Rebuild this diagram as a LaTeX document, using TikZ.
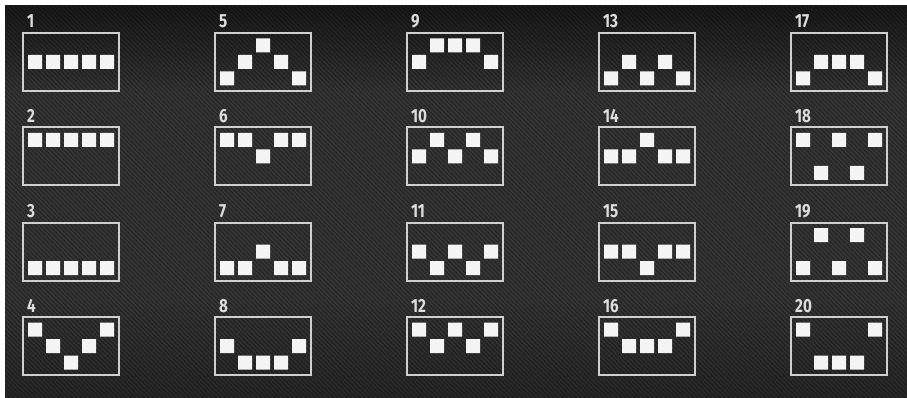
\documentclass[tikz,border=0pt]{standalone}
\usepackage{fontspec}
\setmainfont{Fira Sans}
\usepackage{tikz}

\definecolor{bgtop}{HTML}{1B1B1B}
\definecolor{bgmid}{HTML}{383838}
\definecolor{bgbot}{HTML}{2A2A2A}
\definecolor{framegray}{HTML}{CFCFCF}
\definecolor{cellwhite}{HTML}{F4F4F4}
\definecolor{numgray}{HTML}{DDDDDD}

\tikzset{
  frame/.style={draw=framegray, line width=2pt},
  cell/.style={fill=cellwhite},
  num/.style={anchor=base west, inner sep=0pt, text=numgray, xscale=0.8, transform shape,
    font=\bfseries\fontsize{19}{19}\selectfont},
  stripe/.style={draw=black, opacity=0.3, line width=1.5pt}
}

\begin{document}
\begin{tikzpicture}[x=1pt, y=-1pt]
\useasboundingbox (0,0) rectangle (907,398);
\fill[white](0,0)rectangle(907,398);

% background with stripes
\shade[top color=bgtop, bottom color=bgmid](5,6)rectangle(907,90);
\fill[bgmid](5,90)rectangle(907,300);
\shade[top color=bgmid, bottom color=bgbot](5,300)rectangle(907,398);
\begin{scope}
\clip(5,6)rectangle(907,398);
\foreach \k in {-400,-395.5,...,910}
  \draw[stripe](\k,6)--++(392,392);
\end{scope}

% first column
\begin{scope}[shift={(23,33)}]
\draw[frame](0,0)rectangle(96,58);
\node[num] (n1) at (4,-5) {1};
\fill[cell](5,22)rectangle++(14,14) (23,22)rectangle++(14,14) (41,22)rectangle++(14,14) (59,22)rectangle++(14,14) (77,22)rectangle++(14,14);
\end{scope}
\begin{scope}[shift={(23,127.5)}]
\draw[frame](0,0)rectangle(96,58);
\node[num] (n2) at (4,-5) {2};
\fill[cell](5,5.5)rectangle++(14,14) (23,5.5)rectangle++(14,14) (41,5.5)rectangle++(14,14) (59,5.5)rectangle++(14,14) (77,5.5)rectangle++(14,14);
\end{scope}
\begin{scope}[shift={(23,222.5)}]
\draw[frame](0,0)rectangle(96,58);
\node[num] (n3) at (4,-5) {3};
\fill[cell](5,38.5)rectangle++(14,14) (23,38.5)rectangle++(14,14) (41,38.5)rectangle++(14,14) (59,38.5)rectangle++(14,14) (77,38.5)rectangle++(14,14);
\end{scope}
\begin{scope}[shift={(23,317)}]
\draw[frame](0,0)rectangle(96,58);
\node[num] (n4) at (4,-5) {4};
\fill[cell](5,5.5)rectangle++(14,14) (23,22)rectangle++(14,14) (41,38.5)rectangle++(14,14) (59,22)rectangle++(14,14) (77,5.5)rectangle++(14,14);
\end{scope}

% second column
\begin{scope}[shift={(215,33)}]
\draw[frame](0,0)rectangle(96,58);
\node[num] (n5) at (4,-5) {5};
\fill[cell](5,38.5)rectangle++(14,14) (23,22)rectangle++(14,14) (41,5.5)rectangle++(14,14) (59,22)rectangle++(14,14) (77,38.5)rectangle++(14,14);
\end{scope}
\begin{scope}[shift={(215,127.5)}]
\draw[frame](0,0)rectangle(96,58);
\node[num] (n6) at (4,-5) {6};
\fill[cell](5,5.5)rectangle++(14,14) (23,5.5)rectangle++(14,14) (41,22)rectangle++(14,14) (59,5.5)rectangle++(14,14) (77,5.5)rectangle++(14,14);
\end{scope}
\begin{scope}[shift={(215,222.5)}]
\draw[frame](0,0)rectangle(96,58);
\node[num] (n7) at (4,-5) {7};
\fill[cell](5,38.5)rectangle++(14,14) (23,38.5)rectangle++(14,14) (41,22)rectangle++(14,14) (59,38.5)rectangle++(14,14) (77,38.5)rectangle++(14,14);
\end{scope}
\begin{scope}[shift={(215,317)}]
\draw[frame](0,0)rectangle(96,58);
\node[num] (n8) at (4,-5) {8};
\fill[cell](5,22)rectangle++(14,14) (23,38.5)rectangle++(14,14) (41,38.5)rectangle++(14,14) (59,38.5)rectangle++(14,14) (77,22)rectangle++(14,14);
\end{scope}

% third column
\begin{scope}[shift={(407,33)}]
\draw[frame](0,0)rectangle(96,58);
\node[num] (n9) at (4,-5) {9};
\fill[cell](5,22)rectangle++(14,14) (23,5.5)rectangle++(14,14) (41,5.5)rectangle++(14,14) (59,5.5)rectangle++(14,14) (77,22)rectangle++(14,14);
\end{scope}
\begin{scope}[shift={(407,127.5)}]
\draw[frame](0,0)rectangle(96,58);
\node[num] (n10) at (4,-5) {10};
\fill[cell](5,22)rectangle++(14,14) (23,5.5)rectangle++(14,14) (41,22)rectangle++(14,14) (59,5.5)rectangle++(14,14) (77,22)rectangle++(14,14);
\end{scope}
\begin{scope}[shift={(407,222.5)}]
\draw[frame](0,0)rectangle(96,58);
\node[num] (n11) at (4,-5) {11};
\fill[cell](5,22)rectangle++(14,14) (23,38.5)rectangle++(14,14) (41,22)rectangle++(14,14) (59,38.5)rectangle++(14,14) (77,22)rectangle++(14,14);
\end{scope}
\begin{scope}[shift={(407,317)}]
\draw[frame](0,0)rectangle(96,58);
\node[num] (n12) at (4,-5) {12};
\fill[cell](5,5.5)rectangle++(14,14) (23,22)rectangle++(14,14) (41,5.5)rectangle++(14,14) (59,22)rectangle++(14,14) (77,5.5)rectangle++(14,14);
\end{scope}

% fourth column
\begin{scope}[shift={(599,33)}]
\draw[frame](0,0)rectangle(96,58);
\node[num] (n13) at (4,-5) {13};
\fill[cell](5,38.5)rectangle++(14,14) (23,22)rectangle++(14,14) (41,38.5)rectangle++(14,14) (59,22)rectangle++(14,14) (77,38.5)rectangle++(14,14);
\end{scope}
\begin{scope}[shift={(599,127.5)}]
\draw[frame](0,0)rectangle(96,58);
\node[num] (n14) at (4,-5) {14};
\fill[cell](5,22)rectangle++(14,14) (23,22)rectangle++(14,14) (41,5.5)rectangle++(14,14) (59,22)rectangle++(14,14) (77,22)rectangle++(14,14);
\end{scope}
\begin{scope}[shift={(599,222.5)}]
\draw[frame](0,0)rectangle(96,58);
\node[num] (n15) at (4,-5) {15};
\fill[cell](5,22)rectangle++(14,14) (23,22)rectangle++(14,14) (41,38.5)rectangle++(14,14) (59,22)rectangle++(14,14) (77,22)rectangle++(14,14);
\end{scope}
\begin{scope}[shift={(599,317)}]
\draw[frame](0,0)rectangle(96,58);
\node[num] (n16) at (4,-5) {16};
\fill[cell](5,5.5)rectangle++(14,14) (23,22)rectangle++(14,14) (41,22)rectangle++(14,14) (59,22)rectangle++(14,14) (77,5.5)rectangle++(14,14);
\end{scope}

% fifth column
\begin{scope}[shift={(791,33)}]
\draw[frame](0,0)rectangle(96,58);
\node[num] (n17) at (4,-5) {17};
\fill[cell](5,38.5)rectangle++(14,14) (23,22)rectangle++(14,14) (41,22)rectangle++(14,14) (59,22)rectangle++(14,14) (77,38.5)rectangle++(14,14);
\end{scope}
\begin{scope}[shift={(791,127.5)}]
\draw[frame](0,0)rectangle(96,58);
\node[num] (n18) at (4,-5) {18};
\fill[cell](5,5.5)rectangle++(14,14) (23,38.5)rectangle++(14,14) (41,5.5)rectangle++(14,14) (59,38.5)rectangle++(14,14) (77,5.5)rectangle++(14,14);
\end{scope}
\begin{scope}[shift={(791,222.5)}]
\draw[frame](0,0)rectangle(96,58);
\node[num] (n19) at (4,-5) {19};
\fill[cell](5,38.5)rectangle++(14,14) (23,5.5)rectangle++(14,14) (41,38.5)rectangle++(14,14) (59,5.5)rectangle++(14,14) (77,38.5)rectangle++(14,14);
\end{scope}
\begin{scope}[shift={(791,317)}]
\draw[frame](0,0)rectangle(96,58);
\node[num] (n20) at (4,-5) {20};
\fill[cell](5,5.5)rectangle++(14,14) (23,38.5)rectangle++(14,14) (41,38.5)rectangle++(14,14) (59,38.5)rectangle++(14,14) (77,5.5)rectangle++(14,14);
\end{scope}

\end{tikzpicture}
\end{document}
